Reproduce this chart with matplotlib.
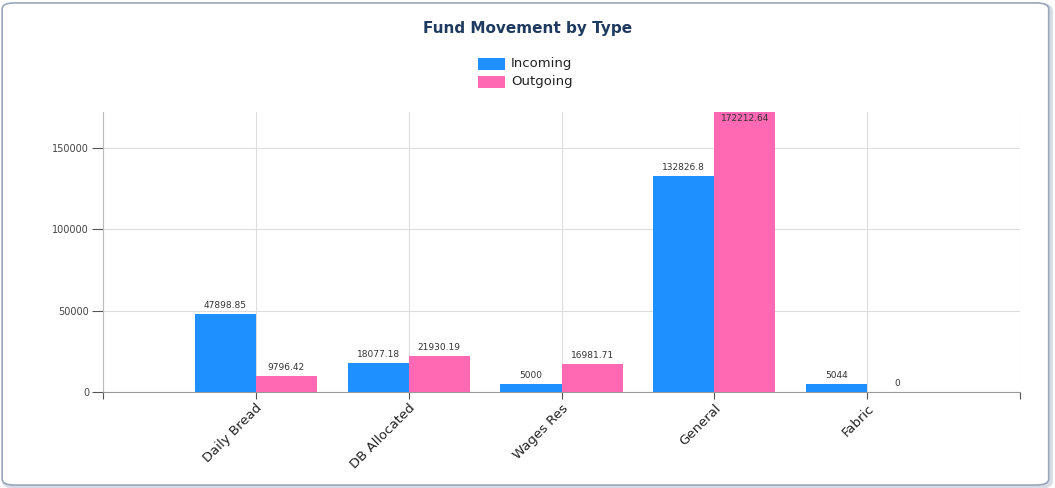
import numpy as np
import matplotlib
matplotlib.use('Agg')
from matplotlib import pyplot as plt
from matplotlib.patches import FancyBboxPatch, Rectangle

## Data ----------------------------------------------------------------------
categories = ['Daily Bread', 'DB Allocated', 'Wages Res', 'General', 'Fabric']
incoming = [47898.85, 18077.18, 5000, 132826.8, 5044]
outgoing = [9796.42, 21930.19, 16981.71, 172212.64, 0]
incoming_labels = ['47898.85', '18077.18', '5000', '132826.8', '5044']
outgoing_labels = ['9796.42', '21930.19', '16981.71', '172212.64', '0']
y_ticks = [0, 50000, 100000, 150000]

blue = '#1E90FF'
pink = '#FF69B4'

## Figure --------------------------------------------------------------------
fig = plt.figure(figsize=(10.55, 4.88), dpi=100)
fig.patch.set_facecolor('white')

# rounded card border with a soft shadow
shadow = FancyBboxPatch((0.004, 0.002), 0.992, 0.988, boxstyle='round,pad=0,rounding_size=0.012',
                        transform=fig.transFigure, facecolor='none', edgecolor='#d6dbe4',
                        linewidth=3, zorder=-2)
card = FancyBboxPatch((0.002, 0.006), 0.992, 0.988, boxstyle='round,pad=0,rounding_size=0.012',
                      transform=fig.transFigure, facecolor='white', edgecolor='#9aa6bb',
                      linewidth=1.2, zorder=-1)
fig.patches.extend([shadow, card])

ax = fig.add_axes([103/1055, 1 - 392/488, (1020 - 103)/1055, (392 - 112)/488])
ax.set_facecolor('none')
ax.set_zorder(1)

x = np.arange(1, len(categories) + 1)
w = 0.4
ax.bar(x - w/2, incoming, w, color=blue, zorder=3)
ax.bar(x + w/2, outgoing, w, color=pink, zorder=3)

ymax = max(outgoing)
ax.set_ylim(0, ymax)
ax.set_xlim(0, len(categories) + 1)

# value labels
for xi, v, s in zip(x - w/2, incoming, incoming_labels):
    ax.text(xi, v + 2500, s, ha='center', va='bottom', fontsize=6.5, color='#333333', zorder=4)
for xi, v, s in zip(x + w/2, outgoing, outgoing_labels):
    if v >= ymax:
        ax.text(xi, v - 1500, s, ha='center', va='top', fontsize=6.5, color='#333333', zorder=4)
    else:
        ax.text(xi, v + 2500, s, ha='center', va='bottom', fontsize=6.5, color='#333333', zorder=4)

# axes / grid
ax.set_yticks(y_ticks)
ax.set_yticklabels([str(t) for t in y_ticks], fontsize=7, color='#444444')
ax.set_xticks(np.arange(0, len(categories) + 2))
ax.set_xticklabels([''] + categories + [''], rotation=45, ha='right', rotation_mode='anchor',
                   fontsize=9.5, color='#222222')
ax.tick_params(axis='y', length=8, width=0.8, color='#555555', pad=2)
ax.tick_params(axis='x', length=5, width=0.8, color='#555555', pad=2)
ax.grid(True, color='#dddddd', linewidth=0.8, zorder=0)
ax.set_axisbelow(True)
for side in ['top', 'right']:
    ax.spines[side].set_visible(False)
ax.spines['left'].set_color('#bbbbbb')
ax.spines['bottom'].set_color('#999999')

## Title and legend ----------------------------------------------------------
fig.text(0.5, 1 - 28/488, 'Fund Movement by Type', ha='center', va='center',
         fontsize=11, fontweight='bold', color='#1f3a5f', family='DejaVu Sans')

lx, ly = 478/1055, 1 - 64/488
for i, (c, name) in enumerate([(blue, 'Incoming'), (pink, 'Outgoing')]):
    yy = ly - i * 18/488
    fig.patches.append(Rectangle((lx, yy - 6/488), 27/1055, 12/488, transform=fig.transFigure,
                                 facecolor=c, edgecolor='none'))
    fig.text(lx + 33/1055, yy, name, ha='left', va='center', fontsize=9.5, color='#222222')

plt.savefig('out.png', dpi=100)
